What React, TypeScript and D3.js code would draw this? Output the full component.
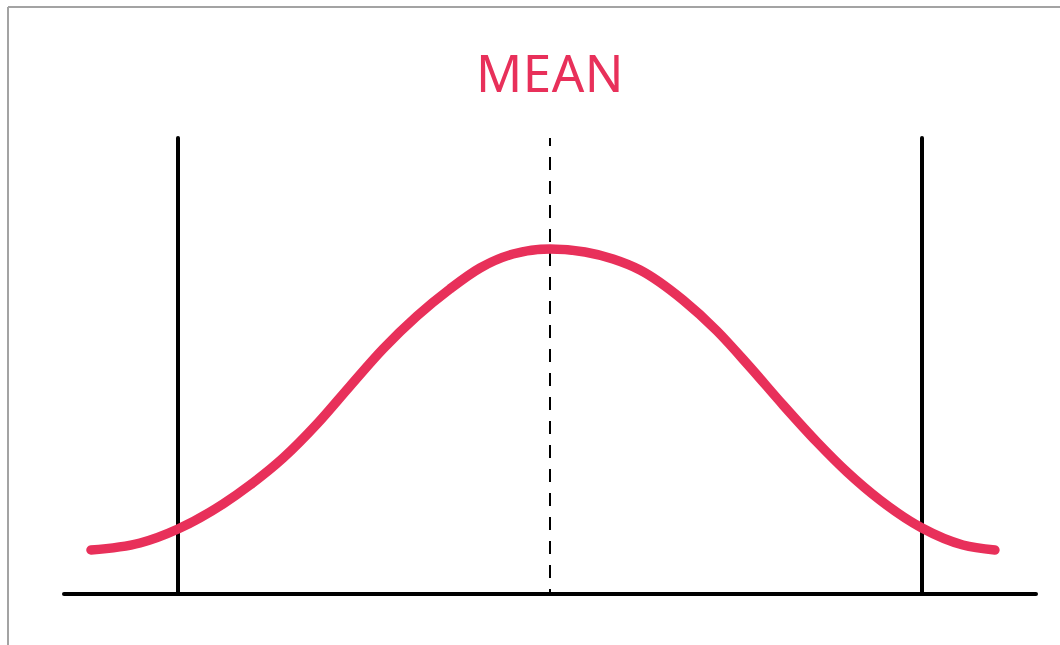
import React from "react";
import * as d3 from "d3";

// Curve samples (x in units from the mean, y in percent of plot height)
const curveX = [-2.468, -2.204, -2.0, -1.758, -1.613, -1.435, -1.253, -1.075, -0.898, -0.715, -0.538, -0.376, -0.199, 0, 0.188, 0.339, 0.484, 0.715, 0.898, 1.075, 1.253, 1.435, 1.597, 1.774, 2.0, 2.22, 2.392];
const curveY = [9.65, 11.18, 14.25, 19.74, 23.9, 29.82, 37.28, 45.61, 53.73, 60.96, 66.89, 71.49, 74.56, 75.66, 75.0, 73.46, 71.05, 64.47, 57.68, 49.78, 41.45, 33.33, 26.75, 20.61, 14.47, 10.75, 9.65];
const boundaries = [-2, 2];
const meanValue = [0];
const axisExtent = [-2.613, 2.613];
const lineTop = [100];
const title = ["MEAN"];

const W = 1060;
const H = 645;

export default function App() {
  const x = d3.scaleLinear().domain([-1, 1]).range([550 - 186, 550 + 186]);
  const y = d3.scaleLinear().domain([0, 100]).range([594, 138]);
  const pts: [number, number][] = curveX.map((v, i) => [v, curveY[i]]);
  const line = d3
    .line<[number, number]>()
    .x((d) => x(d[0]))
    .y((d) => y(d[1]))
    .curve(d3.curveMonotoneX);
  const red = "#e8305a";
  return (
    <svg
      width={W}
      height={H}
      style={{ position: "absolute", left: 0, top: 0, background: "#fff" }}
    >
      <line x1={8} y1={7} x2={W} y2={7} stroke="#a3a3a3" strokeWidth={2} />
      <line x1={8} y1={7} x2={8} y2={H} stroke="#a3a3a3" strokeWidth={2} />
      <text
        x={550}
        y={92}
        textAnchor="middle"
        fill={red}
        fontFamily="'Noto Sans', sans-serif"
        fontSize={51}
        fontWeight={400}
        letterSpacing={0.5}
      >
        {title[0]}
      </text>
      {boundaries.map((b, i) => (
        <line
          key={i}
          x1={x(b)}
          x2={x(b)}
          y1={y(lineTop[0])}
          y2={y(0)}
          stroke="#000"
          strokeWidth={4}
          strokeLinecap="round"
        />
      ))}
      <line
        x1={x(meanValue[0])}
        x2={x(meanValue[0])}
        y1={y(lineTop[0])}
        y2={y(0)}
        stroke="#000"
        strokeWidth={2}
        strokeDasharray="13 11"
        strokeDashoffset={5}
      />
      <line
        x1={x(axisExtent[0])}
        x2={x(axisExtent[1])}
        y1={y(0)}
        y2={y(0)}
        stroke="#000"
        strokeWidth={4}
        strokeLinecap="round"
      />
      <path
        d={line(pts) || ""}
        fill="none"
        stroke={red}
        strokeWidth={9.5}
        strokeLinecap="round"
        strokeLinejoin="round"
      />
    </svg>
  );
}
